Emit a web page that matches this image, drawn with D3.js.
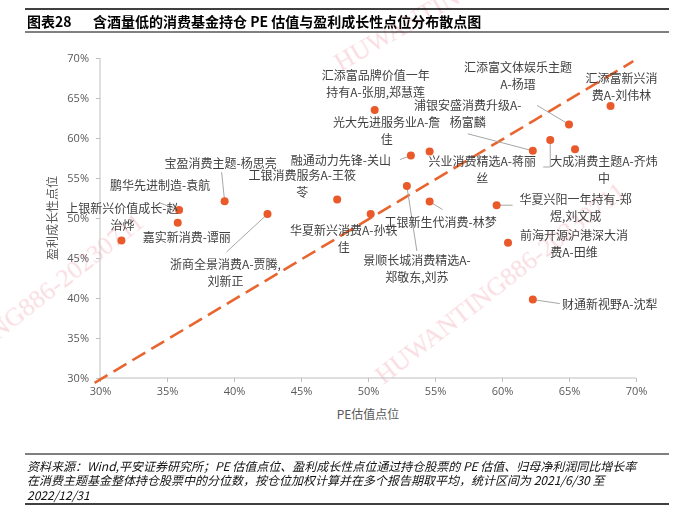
<!DOCTYPE html>
<html><head><meta charset="utf-8">
<script src="https://cdn.jsdelivr.net/npm/d3@7"></script>
<style>body{margin:0;background:#fff;}svg{display:block;}</style>
</head><body>
<svg id="chart" width="694" height="509"></svg>
<script>
// ---------------- data ----------------
const funds = [
  "上银新兴价值成长-赵治烨","鹏华先进制造-袁航","嘉实新消费-谭丽","宝盈消费主题-杨思亮",
  "浙商全景消费A-贾腾,刘新正","工银消费服务A-王筱苓","华夏新兴消费A-孙轶佳","融通动力先锋-关山",
  "光大先进服务业A-詹佳","汇添富品牌价值一年持有A-张朋,郑慧莲","景顺长城消费精选A-郑敬东,刘苏",
  "工银新生代消费-林梦","华夏兴阳一年持有-郑煜,刘文成","前海开源沪港深大消费A-田维","财通新视野A-沈犁",
  "浦银安盛消费升级A-杨富麟","兴业消费精选A-蒋丽丝","汇添富文体娱乐主题A-杨瑨","大成消费主题A-齐炜中",
  "汇添富新兴消费A-刘伟林"
];
const peValues =     [0.316,0.359,0.358,0.393,0.425,0.477,0.502,0.532,0.546,0.505,0.529,0.546,0.596,0.6045,0.623,0.623,0.636,0.650,0.6545,0.681];
const growthValues = [0.472,0.510,0.494,0.521,0.505,0.523,0.505,0.578,0.583,0.635,0.540,0.5205,0.516,0.469,0.398,0.584,0.5975,0.617,0.586,0.640];
const xTicks = [0.30,0.35,0.40,0.45,0.50,0.55,0.60,0.65,0.70];
const yTicks = [0.30,0.35,0.40,0.45,0.50,0.55,0.60,0.65,0.70];
const refLine = [[0.296,0.294],[0.698,0.696]];
const titleNo = "图表28";
const titleText = "含酒量低的消费基金持仓 PE 估值与盈利成长性点位分布散点图";
const xTitle = "PE估值点位";
const yTitle = "盈利成长性点位";
const sourceLines = [
  "资料来源：Wind,平安证券研究所；PE 估值点位、盈利成长性点位通过持仓股票的 PE 估值、归母净利润同比增长率",
  "在消费主题基金整体持仓股票中的分位数，按仓位加权计算并在多个报告期取平均，统计区间为 2021/6/30 至",
  "2022/12/31"
];
const watermark = "HUWANTING886-20230711";

// ---------------- label layout (pixel offsets from the point) ----------------
const labelLines = [
  ["上银新兴价值成长-赵","治烨"],["鹏华先进制造-袁航"],["嘉实新消费-谭丽"],["宝盈消费主题-杨思亮"],
  ["浙商全景消费A-贾腾,","刘新正"],["工银消费服务A-王筱","苓"],["华夏新兴消费A-孙轶","佳"],["融通动力先锋-关山"],
  ["光大先进服务业A-詹","佳"],["汇添富品牌价值一年","持有A-张朋,郑慧莲"],["景顺长城消费精选A-","郑敬东,刘苏"],
  ["工银新生代消费-林梦"],["华夏兴阳一年持有-郑","煜,刘文成"],["前海开源沪港深大消","费A-田维"],["财通新视野A-沈犁"],
  ["浦银安盛消费升级A-","杨富麟"],["兴业消费精选A-蒋丽","丝"],["汇添富文体娱乐主题","A-杨瑨"],["大成消费主题A-齐炜","中"],
  ["汇添富新兴消","费A-刘伟林"]
];
const labelLayout = [
  {dx:1,dy:-33},{dx:-19,dy:-26,leader:[[-19,-7]]},{dx:9,dy:14},{dx:-4,dy:-39,leader:[[-3,-29]]},
  {dx:-42,dy:49,leader:[[-41,38]]},{dx:-35,dy:-25},{dx:-27,dy:15},{dx:-70,dy:4,leader:[[-11,4]]},
  {dx:-43,dy:-30},{dx:1,dy:-36},{dx:10,dy:73,leader:[[10,65]]},
  {dx:11,dy:20,leader:[[13,8]]},{dx:79,dy:-7,leader:[[16,0]]},{dx:66,dy:-8},{dx:77,dy:4,leader:[[27,4]]},
  {dx:-65,dy:-46,leader:[[-65,-17]]},{dx:-68,dy:20,leader:[[-7,27],[0,27]]},{dx:-51,dy:-58,leader:[[-32,-19]]},{dx:29,dy:11},
  {dx:11,dy:-29}
];

// ---------------- drawing ----------------
const svg = d3.select("#chart");
const CJK = "'Noto Sans CJK SC','Noto Sans',sans-serif";
const x = d3.scaleLinear().domain([0.30,0.70]).range([100,636]);
const y = d3.scaleLinear().domain([0.30,0.70]).range([378,58]);
const pct = d3.format(".0%");

// watermarks (faint)
const wm = svg.append("g").attr("fill","#f1a9b5").attr("opacity",0.4)
  .attr("font-family","'Liberation Serif',serif").attr("font-size",26);
[[378,378,-38,"start"],[336,64,-30,"start"],[140,218,-38,"end"]].forEach(([cx,cy,a,anc])=>{
  wm.append("text").attr("transform",`translate(${cx},${cy}) rotate(${a})`)
    .attr("text-anchor",anc).attr("dominant-baseline","central").text(watermark);
});

// title
svg.append("line").attr("x1",25).attr("x2",669).attr("y1",9).attr("y2",9).attr("stroke","#000").attr("stroke-width",1.3);
svg.append("line").attr("x1",25).attr("x2",669).attr("y1",32).attr("y2",32).attr("stroke","#000").attr("stroke-width",1);
svg.append("text").attr("x",27).attr("y",21).attr("dominant-baseline","central")
  .attr("font-family",CJK).attr("font-weight","bold").attr("font-size",14).attr("fill","#000").text(titleNo);
svg.append("text").attr("x",93).attr("y",21).attr("dominant-baseline","central")
  .attr("font-family",CJK).attr("font-weight","bold").attr("font-size",14).attr("fill","#000").text(titleText);

// axes
const xAxis = svg.append("g").attr("transform","translate(0,378)")
  .call(d3.axisBottom(x).tickValues(xTicks).tickFormat(pct).tickSize(4).tickPadding(5));
const yAxis = svg.append("g").attr("transform","translate(100,0)")
  .call(d3.axisLeft(y).tickValues(yTicks).tickFormat(pct).tickSize(4).tickPadding(7));
[xAxis,yAxis].forEach(g=>{
  g.select(".domain").attr("stroke","#bfbfbf").attr("d", g===xAxis ? "M100,0H636" : "M0,58V378");
  g.selectAll(".tick line").attr("stroke","#bfbfbf");
  g.selectAll(".tick text").attr("fill","#595959").attr("font-size",11)
    .attr("font-family","'Open Sans','Noto Sans',sans-serif");
});
yAxis.selectAll(".tick text").attr("dy","0.35em");

svg.append("text").attr("x",368).attr("y",413).attr("text-anchor","middle").attr("dominant-baseline","central")
  .attr("font-family",CJK).attr("font-size",12).attr("fill","#595959").text(xTitle);
svg.append("text").attr("transform","translate(51,218) rotate(-90)").attr("text-anchor","middle")
  .attr("dominant-baseline","central").attr("font-family",CJK).attr("font-size",12).attr("fill","#595959").text(yTitle);

// reference dashed line
svg.append("path").datum(refLine)
  .attr("d", d3.line().x(d=>x(d[0])).y(d=>y(d[1])))
  .attr("stroke","#e9652f").attr("stroke-width",2.6).attr("stroke-dasharray","15,7").attr("fill","none");

// leaders
const pts = funds.map((f,i)=>({name:f, px:x(peValues[i]), py:y(growthValues[i]), lay:labelLayout[i], lines:labelLines[i]}));
svg.append("g").selectAll("path").data(pts.filter(p=>p.lay.leader)).join("path")
  .attr("d", p=>d3.line()(p.lay.leader.map(o=>[p.px+o[0],p.py+o[1]]).concat([[p.px,p.py]])))
  .attr("stroke","#a6a6a6").attr("stroke-width",1).attr("fill","none");

// points
svg.append("g").selectAll("circle").data(pts).join("circle")
  .attr("cx",p=>p.px).attr("cy",p=>p.py).attr("r",4).attr("fill","#e9592a");

// labels
const lg = svg.append("g").attr("font-family",CJK).attr("font-size",12).attr("fill","#404040");
pts.forEach(p=>{
  const t = lg.append("text").attr("text-anchor","middle");
  p.lines.forEach((s,k)=>{
    t.append("tspan").attr("x",p.px+p.lay.dx).attr("y",p.py+p.lay.dy+k*17)
      .attr("dominant-baseline","central").text(s);
  });
});

// source footer
svg.append("line").attr("x1",25).attr("x2",669).attr("y1",454).attr("y2",454).attr("stroke","#000").attr("stroke-width",1);
svg.append("line").attr("x1",25).attr("x2",669).attr("y1",504).attr("y2",504).attr("stroke","#000").attr("stroke-width",1.3);
const sg = svg.append("g").attr("font-family",CJK).attr("font-size",12).attr("font-style","italic").attr("fill","#111");
sourceLines.forEach((s,k)=>{
  sg.append("text").attr("x",27).attr("y",465+k*14.5).attr("dominant-baseline","central").text(s);
});
</script>
</body></html>
